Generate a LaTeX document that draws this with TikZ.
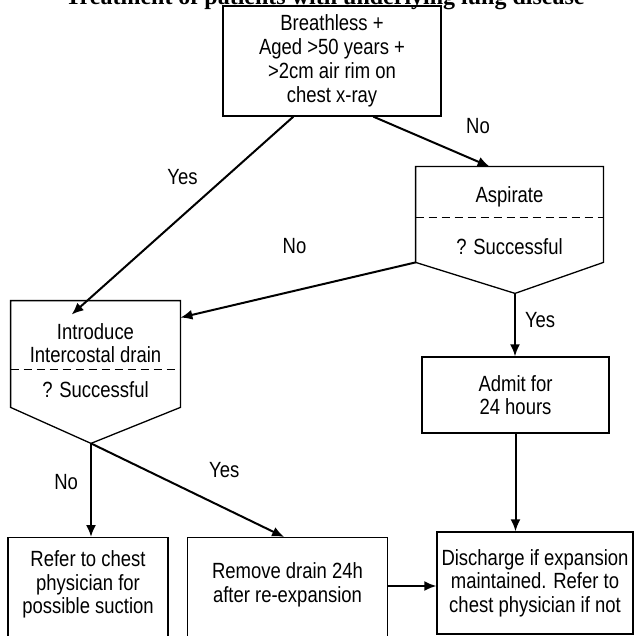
\documentclass[tikz,border=0pt]{standalone}
\usepackage{fontspec}
\setmainfont{Liberation Sans}[FakeStretch=0.84]
\newfontfamily\titlefont{Liberation Serif}
\usetikzlibrary{positioning,calc,arrows.meta}
\newcommand{\flowsize}{\fontsize{11}{11.75}\selectfont}
\newcommand{\deepline}{\rule[-50pt]{0pt}{0pt}}

\begin{document}
\begin{tikzpicture}[x=0.5pt,y=-0.5pt,on grid,
  box/.style={draw,line width=0.65pt,inner sep=0pt,align=center,font=\flowsize},
  cutbox/.style={box,anchor=north,inner ysep=#1},
  body/.style={inner sep=0pt,minimum width=#1},
  txt/.style={inner sep=0pt,align=center,font=\flowsize},
  answer/.style={inner sep=0pt,font=\flowsize},
  flow/.style={-{Latex[length=6pt,width=5pt]},line width=1pt},
  outline/.style={line width=0.65pt},
  divider/.style={line width=0.6pt,dash pattern=on 4pt off 2.5pt}]
  \useasboundingbox (0,0) rectangle (636,636);
  \clip (0,0) rectangle (636,636);
  \node[anchor=base,inner sep=0pt,font=\titlefont\bfseries\fontsize{12}{14}\selectfont] (title) at (325,5)
    {Treatment of patients with underlying lung disease};
  \node[box,minimum width=109pt,minimum height=55pt,
    font=\fontsize{11}{12}\selectfont] (start) at (332,61)
    {Breathless +\\Aged >50 years +\\>2cm air rim on\\chest x-ray};
  % pentagon bodies
  \node[body=93.5pt,minimum height=47.5pt,below right=76.75pt and 88.75pt of start] (aspirate) {};
  \node[body=84.5pt,minimum height=53pt,below left=146.5pt and 118.25pt of start] (intro) {};
  \coordinate (aspirate tip) at ($(aspirate.south)+(5.5,31)$);
  \coordinate (intro tip) at ($(intro.south)+(-4.5,36)$);
  \draw[outline] (aspirate.north west) -- (aspirate.north east) -- (aspirate.south east)
    -- (aspirate tip) -- (aspirate.south west) -- cycle;
  \draw[outline] (intro.north west) -- (intro.north east) -- (intro.south east)
    -- (intro tip) -- (intro.south west) -- cycle;
  \draw[divider] ($(aspirate.north west)+(0,51)$) -- ($(aspirate.north east)+(0,51)$);
  \draw[divider] ($(intro.north west)+(0,69)$) -- ($(intro.north east)+(0,69)$);
  \node[txt] (aspirate text) at ($(aspirate.north)+(0,30)$) {Aspirate};
  \node[txt] (aspirate test) at ($(aspirate.north)+(0,80)$) {? Successful};
  \node[txt] (intro text) at ($(intro.north)+(0,42.5)$) {Introduce\\Intercostal drain};
  \node[txt] (intro test) at ($(intro.north)+(0,89)$) {? Successful};
  % boxes
  \node[box,minimum width=93.5pt,minimum height=38pt,below right=90.25pt and 3pt of aspirate] (admit)
    {Admit for\\24 hours};
  \node[box,minimum width=98pt,minimum height=51pt,below right=94pt and 9.75pt of admit] (discharge)
    {Discharge if expansion\\maintained. Refer to\\chest physician if not};
  \node[cutbox=6.5pt,minimum width=80pt] (refer) at (88,537)
    {Refer to chest\\physician for\\possible suction\deepline};
  \node[cutbox=12.5pt,minimum width=99.75pt] (remove) at (287.5,537)
    {Remove drain 24h\\after re-expansion\deepline};
  \coordinate (handoff) at ($(remove.north east)+(0,49)$);
  % connectors
  \path[flow]
    ($(start.south west)+(71,0)$) edge node[answer,above=14.8pt] {Yes} ($(intro.north west)+(61,14)$)
    ($(start.south west)+(151,0)$) edge node[answer,pos=0.9,above=13.6pt] {No} ($(aspirate.north west)+(74,0)$)
    (aspirate.south west) edge node[answer,pos=0.515,above=18pt] {No} ($(intro.north east)+(0,17)$)
    (aspirate tip) edge node[answer,pos=0.42,right=4.5pt] {Yes} (aspirate tip |- admit.north)
    (admit.south) edge (admit.south |- discharge.north)
    (intro tip) edge node[answer,pos=0.41,left=6pt] {No} (intro tip |- refer.north)
    (intro tip) edge node[answer,pos=0.69,above=14.6pt] {Yes} ($(remove.north west)+(97,0)$)
    (handoff) edge (handoff -| discharge.west);
\end{tikzpicture}
\end{document}
